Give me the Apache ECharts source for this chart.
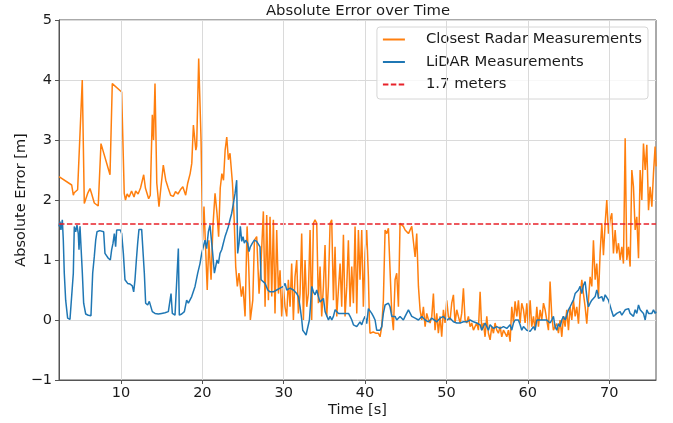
<!DOCTYPE html>
<html>
<head>
<meta charset="utf-8">
<script src="https://cdn.jsdelivr.net/npm/echarts@6/dist/echarts.min.js"></script>
<style>
html, body {
	margin: 0;
	padding: 0;
	background: #fff;
}

#chart {
	width: 673px;
	height: 423px;
}
</style>
</head>
<body>
<div id="chart"></div>
<script type="text/javascript">
	// Closest Radar Measurements
	var radarTime = [2.38, 3.94, 4.14, 4.25, 4.67, 5.24, 5.49, 5.90, 6.19, 6.40, 6.72, 6.90, 7.20, 7.54, 8.65, 8.93,
		10.08, 10.40, 10.55, 10.75, 11.00, 11.30, 11.60, 11.80, 12.10, 12.40, 12.79, 13.00, 13.40, 13.60, 13.85, 14.00,
		14.18, 14.40, 14.67, 14.90, 15.20, 15.50, 15.80, 16.10, 16.43, 16.70, 17.00, 17.30, 17.60, 17.95, 18.20, 18.50,
		18.70, 18.90, 19.20, 19.30, 19.55, 19.84, 20.04, 20.20, 20.40, 20.60, 20.80, 21.07, 21.30, 21.56, 21.80, 22.00,
		22.20, 22.40, 22.60, 22.80, 23.00, 23.20, 23.40, 23.70, 23.90, 24.10, 24.30, 24.50, 24.80, 25.00, 25.25, 25.50,
		25.70, 25.90, 26.20, 26.40, 26.68, 26.97, 27.21, 27.50, 27.71, 27.91, 28.12, 28.32, 28.53, 28.73, 28.93, 29.14,
		29.35, 29.55, 29.75, 29.96, 30.16, 30.37, 30.57, 30.78, 30.98, 31.19, 31.39, 31.60, 31.80, 32.01, 32.21, 32.42,
		32.62, 32.83, 33.03, 33.24, 33.44, 33.65, 33.85, 34.06, 34.26, 34.47, 34.67, 34.88, 35.08, 35.29, 35.49, 35.70,
		35.90, 36.11, 36.31, 36.52, 36.72, 36.93, 37.13, 37.34, 37.54, 37.75, 37.95, 38.16, 38.36, 38.57, 38.77, 38.98,
		39.18, 39.38, 39.59, 39.79, 40.00, 40.20, 40.41, 40.53, 40.61, 41.00, 41.30, 41.64, 41.84, 42.05, 42.25, 42.46,
		42.66, 42.87, 43.07, 43.28, 43.48, 43.69, 43.89, 44.10, 44.30, 44.51, 44.71, 44.92, 45.12, 45.33, 45.53, 45.74,
		45.94, 46.15, 46.35, 46.56, 46.76, 46.97, 47.17, 47.38, 47.58, 47.79, 47.99, 48.20, 48.40, 48.60, 48.81, 49.01,
		49.22, 49.42, 49.63, 49.83, 50.04, 50.24, 50.45, 50.65, 50.86, 51.06, 51.27, 51.47, 51.68, 51.88, 52.09, 52.29,
		52.50, 52.70, 52.91, 53.11, 53.32, 53.52, 53.73, 53.93, 54.14, 54.34, 54.55, 54.75, 54.96, 55.16, 55.37, 55.57,
		55.78, 55.98, 56.19, 56.39, 56.60, 56.80, 57.01, 57.21, 57.42, 57.62, 57.83, 58.03, 58.24, 58.44, 58.65, 58.85,
		59.06, 59.26, 59.47, 59.67, 59.88, 60.08, 60.29, 60.49, 60.70, 60.90, 61.11, 61.31, 61.52, 61.72, 61.93, 62.13,
		62.34, 62.54, 62.74, 62.95, 63.15, 63.36, 63.56, 63.77, 63.97, 64.18, 64.38, 64.59, 64.79, 65.00, 65.20, 65.41,
		65.61, 65.82, 66.02, 66.23, 66.43, 66.64, 66.84, 67.05, 67.25, 67.46, 67.66, 67.87, 68.07, 68.28, 68.48, 68.69,
		68.89, 69.10, 69.30, 69.51, 69.71, 69.92, 70.12, 70.33, 70.53, 70.74, 70.94, 71.15, 71.35, 71.56, 71.76, 71.97,
		72.17, 72.38, 72.58, 72.79, 72.99, 73.20, 73.40, 73.61, 73.81, 74.02, 74.22, 74.43, 74.63, 74.84, 75.04, 75.25,
		75.45, 75.65, 75.78];
	var radarError = [2.39, 2.25, 2.08, 2.12, 2.17, 4.00, 1.94, 2.11, 2.19, 2.10, 1.95, 1.97, 1.90, 2.94, 2.42, 3.94,
		3.80, 2.11, 2.00, 2.10, 2.05, 2.15, 2.05, 2.15, 2.10, 2.20, 2.42, 2.20, 2.02, 2.08, 3.42, 3.00,
		3.94, 2.28, 1.89, 2.20, 2.58, 2.33, 2.20, 2.08, 2.06, 2.14, 2.10, 2.17, 2.22, 2.08, 2.28, 2.44,
		2.61, 3.25, 2.83, 2.90, 4.36, 3.00, 1.33, 1.89, 1.20, 0.50, 1.33, 0.67, 1.56, 2.11, 1.78, 1.39,
		2.20, 2.44, 2.33, 2.83, 3.05, 2.67, 2.78, 2.28, 1.72, 0.89, 0.56, 0.78, 0.39, 0.56, 0.06, 1.56,
		0.89, 0.00, 0.33, 1.33, 1.39, 0.44, 0.94, 1.81, 0.22, 1.75, 0.33, 1.72, 0.39, 1.67, 0.11, 1.50,
		0.44, 0.83, 0.06, 0.56, 0.22, 0.06, 0.67, 0.22, 0.94, 0.00, 0.72, 1.00, 0.11, 0.44, 1.44, 0.00,
		1.00, 0.22, 0.44, 1.50, 0.00, 1.61, 1.67, 1.61, 0.28, 0.89, 0.06, 0.56, 1.25, 0.06, 0.56, 1.61,
		1.67, 0.33, 1.22, 0.06, 0.50, 0.94, 0.22, 1.42, 0.06, 0.56, 1.33, 0.22, 0.89, 0.28, 1.56, 0.11,
		1.50, 0.67, 1.50, 0.22, 1.11, 1.50, 0.72, 0.00, -0.22, -0.20, -0.22, -0.22, -0.28, -0.11, 0.33, 1.50,
		1.44, 1.53, 1.50, 0.11, -0.17, 0.67, 0.78, 0.22, 1.61, 1.61, 1.56, 1.50, 1.47, 1.44, 1.42, 1.56,
		1.53, 1.05, 1.44, 0.56, 0.17, 0.00, 0.22, -0.11, 0.11, 0.00, -0.05, 0.06, 0.44, -0.17, 0.11, -0.22,
		0.06, -0.28, 0.17, -0.05, 0.33, 0.06, 0.00, 0.28, 0.42, -0.05, 0.17, 0.06, -0.05, 0.11, 0.53, 0.00,
		-0.05, 0.06, -0.11, -0.05, -0.17, -0.11, -0.05, -0.17, 0.47, -0.17, -0.05, -0.28, 0.06, -0.22, -0.33, -0.11,
		-0.22, -0.05, -0.17, -0.22, -0.11, -0.28, -0.17, -0.22, -0.28, -0.17, -0.36, 0.22, -0.05, 0.31, 0.06, 0.33,
		-0.05, 0.28, 0.17, -0.05, 0.28, -0.17, 0.33, -0.11, 0.06, -0.17, 0.22, -0.11, 0.17, 0.00, 0.28, 0.17,
		0.17, -0.17, 0.64, 0.06, -0.17, -0.17, -0.06, -0.22, 0.00, -0.28, 0.06, -0.11, 0.17, -0.17, 0.22, 0.00,
		0.33, 0.06, 0.22, -0.06, 0.39, 0.67, 0.44, 0.22, -0.06, 0.33, 0.72, 0.56, 1.33, 0.67, 0.94, 0.39,
		1.11, 1.61, 1.08, 1.61, 2.00, 1.44, 1.67, 1.78, 1.11, 1.50, 1.11, 1.28, 1.00, 1.22, 0.94, 3.03,
		1.00, 1.22, 0.89, 2.50, 2.22, 1.50, 1.72, 1.03, 2.50, 2.00, 2.94, 2.50, 2.92, 1.83, 2.22, 1.89,
		2.44, 2.89, 2.56];

	// LiDAR Measurements
	var lidarTime = [2.38, 2.50, 2.62, 2.79, 2.91, 3.03, 3.20, 3.44, 3.73, 3.93, 4.14, 4.26, 4.43, 4.59, 4.75, 4.84,
		4.96, 5.08, 5.25, 5.41, 5.66, 5.98, 6.31, 6.52, 6.72, 6.89, 7.05, 7.21, 7.38, 7.62, 7.87, 8.03,
		8.24, 8.44, 8.69, 8.85, 9.02, 9.18, 9.34, 9.47, 9.67, 9.92, 10.08, 10.29, 10.49, 10.82, 11.11, 11.39,
		11.56, 11.72, 11.89, 12.05, 12.21, 12.54, 12.75, 12.87, 13.03, 13.28, 13.48, 13.65, 13.85, 14.18, 14.59, 15.00,
		15.41, 15.82, 16.15, 16.31, 16.64, 16.88, 17.05, 17.17, 17.46, 17.79, 18.07, 18.28, 18.69, 19.10, 19.43, 19.71,
		19.92, 20.12, 20.33, 20.53, 20.74, 20.94, 21.15, 21.27, 21.48, 21.64, 21.80, 21.97, 22.17, 22.38, 22.58, 22.79,
		22.99, 23.20, 23.40, 23.61, 23.81, 24.02, 24.22, 24.34, 24.51, 24.67, 24.84, 25.00, 25.16, 25.33, 25.57, 25.74,
		25.90, 26.15, 26.39, 26.68, 26.89, 27.09, 27.22, 27.38, 27.71, 28.04, 28.32, 28.73, 29.14, 29.55, 29.96, 30.17,
		30.37, 30.58, 30.78, 30.99, 31.19, 31.40, 31.60, 31.81, 32.01, 32.22, 32.34, 32.55, 32.75, 32.96, 33.16, 33.28,
		33.45, 33.65, 33.86, 34.06, 34.27, 34.47, 34.68, 34.88, 35.09, 35.29, 35.50, 35.70, 35.91, 36.11, 36.32, 36.52,
		36.73, 36.93, 37.14, 37.34, 37.55, 37.75, 37.96, 38.16, 38.37, 38.57, 38.78, 38.98, 39.18, 39.38, 39.59, 39.79,
		40.00, 40.20, 40.41, 40.61, 40.82, 41.02, 41.23, 41.43, 41.64, 41.84, 42.05, 42.25, 42.46, 42.66, 42.87, 43.07,
		43.28, 43.48, 43.69, 43.89, 44.10, 44.30, 44.51, 44.71, 44.92, 45.12, 45.33, 45.53, 45.74, 45.94, 46.15, 46.35,
		46.56, 46.76, 46.97, 47.38, 47.79, 48.20, 48.40, 48.81, 49.22, 49.63, 50.04, 50.45, 50.86, 51.27, 51.68, 52.09,
		52.50, 52.91, 53.32, 53.73, 54.14, 54.34, 54.55, 54.75, 54.96, 55.16, 55.37, 55.57, 55.78, 56.19, 56.60, 57.01,
		57.42, 57.83, 58.03, 58.24, 58.44, 58.65, 58.85, 59.06, 59.26, 59.47, 59.88, 60.29, 60.49, 60.70, 60.90, 61.11,
		61.31, 61.52, 61.72, 61.93, 62.13, 62.34, 62.54, 62.74, 62.95, 63.15, 63.36, 63.56, 63.77, 63.97, 64.18, 64.38,
		64.59, 64.79, 65.00, 65.20, 65.41, 65.61, 65.82, 66.02, 66.23, 66.43, 66.64, 66.84, 67.05, 67.17, 67.30, 67.46,
		67.66, 67.87, 68.07, 68.28, 68.48, 68.61, 68.69, 68.89, 69.10, 69.30, 69.51, 69.71, 69.92, 70.12, 70.33, 70.53,
		70.74, 70.94, 71.15, 71.35, 71.56, 71.76, 71.97, 72.17, 72.38, 72.58, 72.79, 72.99, 73.20, 73.40, 73.61, 73.81,
		74.02, 74.22, 74.43, 74.63, 74.84, 75.04, 75.25, 75.45, 75.65, 75.78];
	var lidarError = [1.56, 1.64, 1.50, 1.67, 1.33, 0.78, 0.33, 0.03, 0.01, 0.03, 0.78, 1.56, 1.47, 1.58, 1.44, 1.17,
		1.56, 1.58, 0.78, 0.28, 0.10, 0.08, 0.07, 0.78, 1.06, 1.33, 1.47, 1.44, 1.49, 1.50, 1.47, 1.11,
		1.08, 1.03, 1.00, 1.17, 1.28, 1.44, 1.22, 1.50, 1.49, 1.50, 1.44, 1.11, 0.67, 0.61, 0.60, 0.57,
		0.47, 0.67, 1.00, 1.28, 1.51, 1.51, 1.50, 0.78, 0.28, 0.25, 0.31, 0.28, 0.14, 0.11, 0.10, 0.11,
		0.12, 0.14, 0.44, 0.11, 0.08, 0.11, 1.19, 0.08, 0.10, 0.14, 0.33, 0.28, 0.39, 0.56, 0.78, 0.94,
		1.11, 1.22, 1.33, 1.19, 1.47, 1.58, 1.58, 1.11, 0.78, 0.89, 1.00, 0.94, 1.11, 1.17, 1.28, 1.39,
		1.47, 1.56, 1.67, 1.78, 1.94, 2.11, 2.33, 1.11, 1.28, 1.56, 1.31, 1.39, 1.28, 1.33, 1.28, 1.14,
		1.22, 1.28, 1.33, 1.31, 1.32, 1.22, 0.67, 0.64, 0.61, 0.50, 0.47, 0.47, 0.50, 0.53, 0.56, 0.61,
		0.50, 0.47, 0.53, 0.50, 0.50, 0.53, 0.44, 0.39, 0.22, 0.00, -0.17, -0.21, -0.25, -0.22, 0.00, 0.22,
		0.56, 0.47, 0.42, 0.50, 0.39, 0.30, 0.33, 0.36, 0.14, 0.11, 0.00, 0.06, 0.00, 0.06, 0.17, 0.14,
		0.11, 0.14, 0.11, 0.14, 0.11, 0.08, 0.11, 0.06, 0.00, -0.08, -0.08, -0.11, -0.14, -0.03, -0.08, 0.00,
		0.06, -0.06, 0.19, 0.17, 0.11, 0.06, 0.00, -0.17, -0.14, -0.17, -0.11, 0.11, 0.25, 0.25, 0.28, 0.22,
		0.06, 0.03, 0.06, 0.00, 0.03, 0.06, 0.08, 0.00, 0.06, 0.08, 0.17, 0.14, 0.06, 0.08, 0.03, 0.06,
		0.00, 0.03, 0.06, 0.00, -0.03, 0.03, 0.00, -0.03, 0.03, 0.06, 0.00, 0.03, -0.03, -0.05, -0.05, -0.03,
		-0.03, 0.00, -0.03, -0.05, -0.08, -0.17, -0.19, -0.05, -0.11, -0.17, -0.08, -0.11, -0.14, -0.11, -0.14, -0.11,
		-0.14, -0.08, -0.17, -0.05, 0.00, -0.03, 0.00, -0.08, -0.17, -0.11, -0.17, -0.19, -0.22, -0.11, -0.17, 0.00,
		0.03, 0.00, -0.03, 0.00, 0.03, 0.00, -0.03, -0.05, 0.00, 0.06, -0.11, -0.17, -0.06, -0.11, 0.00, 0.06,
		0.00, 0.08, 0.17, 0.22, 0.28, 0.33, 0.44, 0.47, 0.50, 0.56, 0.44, 0.58, 0.64, 0.67, 0.33, 0.22,
		0.28, 0.33, 0.31, 0.39, 0.50, 0.44, 0.36, 0.33, 0.39, 0.31, 0.42, 0.39, 0.33, 0.31, 0.14, 0.06,
		0.06, 0.11, 0.08, 0.14, 0.08, 0.11, 0.17, 0.14, 0.19, 0.11, 0.14, 0.06, 0.17, 0.11, 0.25, 0.17,
		0.14, 0.11, 0.00, 0.17, 0.11, 0.14, 0.11, 0.17, 0.11, 0.14];

	// 1.7 meters reference line (drawn at 1.6 in the figure)
	var thresholdValue = 1.6;
	var xTickValues = [10, 20, 30, 40, 50, 60, 70];
	var xMin = 2.38, xMax = 75.76;

	function toPairs(xs, ys) {
		var out = [];
		for (var i = 0; i < xs.length; ++i) {
			out.push([xs[i], ys[i]]);
		}
		return out;
	}

	var fontFamily = 'DejaVu Sans';
	var textColor = '#1a1a1a';
	var spineColor = '#555';
	var gridColor = '#dadada';

	var myChart = echarts.init(document.getElementById('chart'), null, { renderer: 'canvas' });

	var gridLines = [];
	for (var i = 0; i < xTickValues.length; ++i) {
		gridLines.push({ xAxis: xTickValues[i] });
	}

	var option = {
		animation: false,
		backgroundColor: '#fff',
		textStyle: { fontFamily: fontFamily },
		title: {
			text: 'Absolute Error over Time',
			left: 353,
			textAlign: 'center',
			top: -1,
			textStyle: { fontFamily: fontFamily, fontSize: 14.8, fontWeight: 'normal', color: textColor }
		},
		grid: {
			left: 59,
			right: 17,
			top: 20,
			bottom: 43,
			containLabel: false,
			outerBoundsMode: 'none',
			show: true,
			borderColor: spineColor,
			borderWidth: 1,
			backgroundColor: 'transparent'
		},
		legend: {
			orient: 'vertical',
			right: 25,
			top: 27,
			data: ['Closest Radar Measurements', 'LiDAR Measurements', '1.7 meters'],
			itemWidth: 22,
			itemHeight: 14,
			itemGap: 7.5,
			padding: [5, 6, 7, 5],
			borderColor: '#d6d6d6',
			borderWidth: 1,
			borderRadius: 3,
			backgroundColor: 'rgba(255,255,255,0.8)',
			// hide the symbol, keep the line
			itemStyle: { opacity: 0 },
			textStyle: {
				fontFamily: fontFamily,
				fontSize: 14.8,
				color: textColor,
				padding: [0, 0, 0, 16]
			}
		},
		xAxis: {
			type: 'value',
			min: xMin,
			max: xMax,
			name: 'Time [s]',
			nameLocation: 'middle',
			nameGap: 23,
			nameMoveOverlap: false,
			nameTextStyle: { fontFamily: fontFamily, fontSize: 14.5, color: textColor },
			axisLine: { show: true, onZero: false, lineStyle: { color: spineColor, width: 1 } },
			axisTick: {
				show: true,
				inside: false,
				length: 4,
				customValues: xTickValues,
				lineStyle: { color: spineColor }
			},
			axisLabel: {
				customValues: xTickValues,
				margin: 6,
				fontFamily: fontFamily,
				fontSize: 14.5,
				color: textColor
			},
			splitLine: { show: false }
		},
		yAxis: {
			type: 'value',
			min: -1,
			max: 5,
			interval: 1,
			name: 'Absolute Error [m]',
			nameLocation: 'middle',
			nameGap: 30,
			nameMoveOverlap: false,
			nameTextStyle: { fontFamily: fontFamily, fontSize: 14.5, color: textColor },
			axisLine: { show: true, lineStyle: { color: spineColor, width: 1 } },
			axisTick: { show: true, inside: false, length: 4, lineStyle: { color: spineColor } },
			axisLabel: {
				margin: 7,
				fontFamily: fontFamily,
				fontSize: 14.5,
				color: textColor,
				formatter: function(v) {
					return String(v).replace('-', '\u2212');
				}
			},
			splitLine: { show: true, lineStyle: { color: gridColor, width: 1 } }
		},
		series: [ {
			// vertical grid lines at the x ticks
			name: 'xgrid',
			type: 'line',
			data: [],
			z: 0,
			silent: true,
			markLine: {
				silent: true,
				symbol: ['none', 'none'],
				label: { show: false },
				lineStyle: { color: gridColor, width: 1, type: 'solid' },
				data: gridLines
			}
		}, {
			name: 'Closest Radar Measurements',
			type: 'line',
			data: toPairs(radarTime, radarError),
			symbol: 'none',
			showSymbol: false,
			clip: true,
			z: 2,
			color: '#ff7f0e',
			lineStyle: { color: '#ff7f0e', width: 1.5 }
		}, {
			name: 'LiDAR Measurements',
			type: 'line',
			data: toPairs(lidarTime, lidarError),
			symbol: 'none',
			showSymbol: false,
			clip: true,
			z: 3,
			color: '#1f77b4',
			lineStyle: { color: '#1f77b4', width: 1.5 }
		}, {
			name: '1.7 meters',
			type: 'line',
			data: [ [ xMin, thresholdValue ], [ xMax, thresholdValue ] ],
			symbol: 'none',
			showSymbol: false,
			z: 4,
			color: '#e8222a',
			lineStyle: { color: '#e8222a', width: 1.5, type: [ 5.5, 2.4 ] }
		} ]
	};

	myChart.setOption(option);
</script>
</body>
</html>
